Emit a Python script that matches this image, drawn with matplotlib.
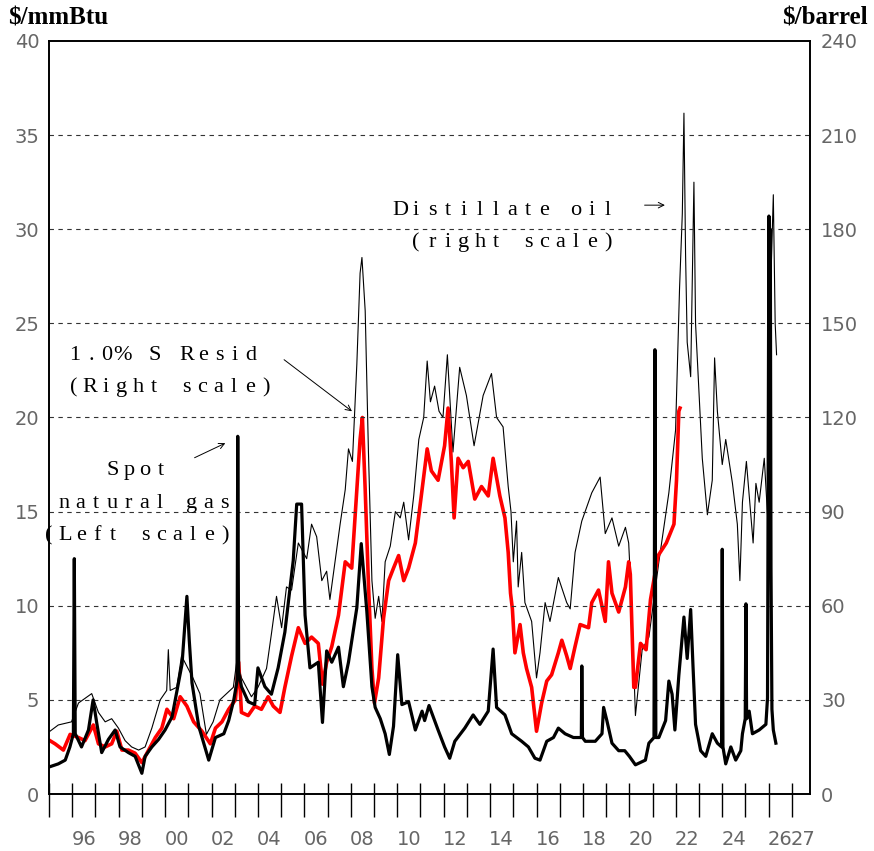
import matplotlib
matplotlib.use('Agg')
import matplotlib.pyplot as plt

# spot natural gas, $/mmBtu (left scale)
gas_year = [1995.04, 1995.40, 1995.70, 1995.90, 1996.05, 1996.09, 1996.13, 1996.40, 1996.70, 1996.90,
            1997.06, 1997.27, 1997.56, 1997.85, 1998.06, 1998.42, 1998.71, 1999.00, 1999.14, 1999.43,
            1999.72, 2000.00, 2000.30, 2000.73, 2000.94, 2001.04, 2001.16, 2001.45, 2001.88, 2002.17,
            2002.53, 2002.74, 2002.96, 2003.10, 2003.13, 2003.17, 2003.29, 2003.58, 2003.86, 2004.00,
            2004.30, 2004.58, 2004.87, 2005.16, 2005.52, 2005.67, 2005.88, 2006.03, 2006.24, 2006.60,
            2006.78, 2006.96, 2007.18, 2007.47, 2007.68, 2007.90, 2008.26, 2008.45, 2008.69, 2008.91,
            2009.05, 2009.27, 2009.48, 2009.66, 2009.84, 2010.02, 2010.20, 2010.49, 2010.78, 2011.07,
            2011.18, 2011.37, 2011.76, 2012.04, 2012.26, 2012.48, 2012.91, 2013.27, 2013.56, 2013.92,
            2014.13, 2014.28, 2014.64, 2014.93, 2015.36, 2015.65, 2015.93, 2016.15, 2016.44, 2016.73,
            2016.94, 2017.23, 2017.59, 2017.93, 2017.95, 2017.98, 2018.10, 2018.53, 2018.82, 2018.89,
            2019.03, 2019.25, 2019.54, 2019.80, 2020.00, 2020.26, 2020.69, 2020.84, 2021.06, 2021.10,
            2021.14, 2021.27, 2021.56, 2021.70, 2021.84, 2021.96, 2022.13, 2022.35, 2022.49, 2022.64,
            2022.74, 2022.85, 2023.07, 2023.29, 2023.57, 2023.79, 2023.97, 2024.00, 2024.03, 2024.15,
            2024.37, 2024.58, 2024.80, 2024.87, 2024.99, 2025.02, 2025.05, 2025.16, 2025.30, 2025.59,
            2025.88, 2025.95, 2026.01, 2026.04, 2026.07, 2026.10, 2026.14, 2026.20, 2026.31]
gas_price = [1.45, 1.6, 1.8, 2.5, 3.2, 12.5, 3.2, 2.5, 3.4, 5.0,
             3.75, 2.2, 2.9, 3.4, 2.5, 2.2, 2.0, 1.1, 2.0, 2.5,
             2.9, 3.4, 4.1, 6.9, 10.5, 8.2, 5.9, 3.6, 1.8, 3.0,
             3.2, 3.9, 5.0, 6.0, 19.0, 6.5, 5.7, 4.9, 4.75, 6.7,
             5.7, 5.3, 6.7, 8.6, 12.4, 15.4, 15.4, 9.5, 6.7, 7.0,
             3.8, 7.6, 7.0, 7.8, 5.7, 7.0, 9.9, 13.3, 9.7, 5.7,
             4.6, 4.0, 3.2, 2.1, 3.6, 7.4, 4.75, 4.9, 3.4, 4.4,
             3.9, 4.7, 3.4, 2.5, 1.9, 2.8, 3.5, 4.2, 3.7, 4.4,
             7.7, 4.6, 4.2, 3.2, 2.8, 2.5, 1.9, 1.8, 2.8, 3.0,
             3.5, 3.2, 3.0, 3.0, 6.8, 3.0, 2.8, 2.8, 3.2, 4.6,
             3.9, 2.7, 2.3, 2.3, 2.0, 1.55, 1.8, 2.7, 3.0, 23.6,
             3.0, 3.0, 3.9, 6.0, 5.3, 3.4, 6.3, 9.4, 7.2, 9.8,
             6.8, 3.7, 2.3, 2.0, 3.2, 2.7, 2.5, 13.0, 2.5, 1.6,
             2.5, 1.8, 2.3, 3.2, 4.0, 10.1, 4.0, 4.4, 3.2, 3.4,
             3.7, 5.1, 30.7, 22.0, 30.0, 12.0, 4.5, 3.4, 2.7]

# distillate oil, $/barrel (right scale)
dist_year = [1995.04, 1995.40, 1995.97, 1996.27, 1996.84, 1997.13, 1997.42, 1997.70, 1997.99, 1998.28,
             1998.56, 1998.86, 1999.14, 1999.43, 1999.79, 2000.07, 2000.14, 2000.22, 2000.50, 2000.71,
             2000.92, 2001.20, 2001.50, 2001.78, 2002.07, 2002.36, 2002.65, 2002.94, 2003.10, 2003.29,
             2003.72, 2004.00, 2004.37, 2004.58, 2004.80, 2005.02, 2005.23, 2005.45, 2005.74, 2006.10,
             2006.31, 2006.53, 2006.75, 2006.96, 2007.10, 2007.32, 2007.54, 2007.76, 2007.90, 2008.07,
             2008.26, 2008.40, 2008.48, 2008.62, 2008.76, 2008.91, 2009.05, 2009.20, 2009.34, 2009.48,
             2009.70, 2009.92, 2010.13, 2010.28, 2010.49, 2010.71, 2010.93, 2011.14, 2011.29, 2011.43,
             2011.61, 2011.80, 2011.97, 2012.16, 2012.40, 2012.69, 2012.98, 2013.31, 2013.70, 2014.06,
             2014.28, 2014.56, 2014.78, 2014.90, 2015.00, 2015.14, 2015.21, 2015.36, 2015.50, 2015.79,
             2016.00, 2016.15, 2016.37, 2016.58, 2016.94, 2017.30, 2017.45, 2017.66, 2017.95, 2018.38,
             2018.74, 2018.96, 2019.25, 2019.54, 2019.83, 2019.97, 2020.10, 2020.26, 2020.55, 2020.84,
             2021.27, 2021.70, 2021.99, 2022.16, 2022.28, 2022.35, 2022.42, 2022.49, 2022.64, 2022.78,
             2022.85, 2023.00, 2023.14, 2023.36, 2023.57, 2023.67, 2023.79, 2024.00, 2024.15, 2024.44,
             2024.65, 2024.76, 2024.87, 2025.04, 2025.23, 2025.33, 2025.45, 2025.59, 2025.81, 2025.95,
             2026.10, 2026.20, 2026.28, 2026.34]
dist_price = [20, 22, 23, 29, 32, 26, 23, 24, 21, 17,
              15, 14, 15, 21, 30, 33, 46, 33, 34, 44,
              41, 37, 32, 19, 23, 30, 32, 34, 43, 37,
              31, 34, 40, 51, 63, 53, 66, 65, 80, 75,
              86, 82, 68, 71, 62, 74, 86, 97, 110, 106,
              137, 166, 171, 154, 109, 68, 56, 63, 55, 74,
              79, 90, 88, 93, 81, 95, 113, 120, 138, 125,
              130, 122, 120, 140, 109, 136, 127, 111, 127, 134,
              120, 117, 98, 90, 74, 87, 66, 77, 61, 55,
              37, 45, 61, 55, 69, 61, 59, 77, 87, 96,
              101, 83, 88, 79, 85, 80, 60, 25, 46, 50,
              74, 96, 116, 161, 185, 217, 172, 144, 133, 195,
              150, 128, 107, 89, 100, 139, 122, 105, 113, 99,
              86, 68, 93, 106, 89, 80, 99, 93, 107, 89,
              165, 191, 150, 140]

# 1.0% S resid, $/barrel (right scale)
resid_year = [1995.04, 1995.26, 1995.62, 1995.91, 1996.27, 1996.55, 1996.91, 1997.13, 1997.42, 1997.70,
              1997.92, 1998.14, 1998.42, 1998.71, 1999.00, 1999.29, 1999.58, 1999.86, 2000.08, 2000.37,
              2000.65, 2000.94, 2001.23, 2001.59, 2001.95, 2002.17, 2002.45, 2002.74, 2003.03, 2003.17,
              2003.29, 2003.58, 2003.86, 2004.15, 2004.44, 2004.66, 2004.95, 2005.16, 2005.45, 2005.74,
              2006.03, 2006.31, 2006.60, 2006.78, 2006.96, 2007.18, 2007.47, 2007.76, 2008.04, 2008.26,
              2008.40, 2008.50, 2008.62, 2008.76, 2008.91, 2009.02, 2009.20, 2009.41, 2009.63, 2009.84,
              2010.06, 2010.28, 2010.49, 2010.78, 2011.07, 2011.29, 2011.47, 2011.76, 2012.04, 2012.19,
              2012.33, 2012.45, 2012.62, 2012.84, 2013.06, 2013.34, 2013.63, 2013.92, 2014.13, 2014.42,
              2014.64, 2014.78, 2014.88, 2014.96, 2015.07, 2015.29, 2015.43, 2015.57, 2015.79, 2016.00,
              2016.22, 2016.44, 2016.65, 2016.94, 2017.09, 2017.30, 2017.45, 2017.66, 2017.88, 2018.24,
              2018.38, 2018.67, 2018.96, 2019.10, 2019.25, 2019.54, 2019.83, 2019.97, 2020.04, 2020.19,
              2020.26, 2020.48, 2020.72, 2020.91, 2021.05, 2021.24, 2021.59, 2021.92, 2022.03, 2022.13,
              2022.18]
resid_price = [17, 16, 14, 19, 18, 17, 22, 16, 15, 16,
               20, 14, 14, 13, 10, 14, 18, 21, 27, 24,
               31, 28, 23, 20, 16, 21, 23, 27, 30, 42,
               26, 25, 28, 27, 31, 28, 26, 34, 44, 53,
               48, 50, 48, 35, 42, 47, 57, 74, 72, 97,
               113, 120, 97, 67, 40, 29, 37, 56, 68, 72,
               76, 68, 72, 80, 97, 110, 103, 100, 111, 123,
               106, 88, 107, 104, 106, 94, 98, 95, 107, 95,
               88, 77, 64, 59, 45, 54, 45, 40, 34, 20,
               29, 36, 38, 45, 49, 44, 40, 47, 54, 53,
               61, 65, 55, 74, 64, 58, 66, 74, 70, 34,
               34, 48, 46, 62, 68, 76, 80, 86, 100, 122,
               123]

tick_years = list(range(1995, 2028))
label_years = list(range(1996, 2027, 2)) + [2027]
year_labels = [str(y)[2:] for y in label_years]
left_ticks = [0, 5, 10, 15, 20, 25, 30, 35, 40]
right_ticks = [0, 30, 60, 90, 120, 150, 180, 210, 240]

W, H = 874, 851
tick_font = 'DejaVu Sans'
note_font = 'Liberation Serif'
tick_color = '#666666'


def spaced_text(fig, x0, y0, s, pitch=16, size=16):
    ''' put every character on a fixed pitch, like the wide type of the original
    x0 = centre of first character, y0 = baseline (both in pixels from top-left) '''
    for i, ch in enumerate(s):
        if ch == ' ':
            continue
        fig.text((x0 + i * pitch) / W, 1 - y0 / H, ch, family=note_font, fontsize=size,
                 ha='center', va='baseline')


fig = plt.figure(figsize=(W / 100, H / 100), dpi=100, facecolor='w')
ax = fig.add_axes([49 / W, 1 - 794 / H, 761 / W, 753 / H])
ax2 = ax.twinx()
# gas goes on top of the oil series
ax.set_zorder(2)
ax2.set_zorder(1)
ax.patch.set_visible(False)

ax2.plot(dist_year, dist_price, color='black', lw=0.8)
ax2.plot(resid_year, resid_price, color='#ff0000', lw=2.6)
ax.plot(gas_year, gas_price, color='black', lw=2.3)

ax.set_xlim(1995, 2027.78)
ax.set_ylim(0, 40)
ax2.set_ylim(0, 240)

for y in left_ticks[1:-1]:
    ax.axhline(y, color='#333333', lw=0.8, ls=(0, (4, 4)), zorder=0)

ax.set_yticks(left_ticks)
ax.set_yticklabels([str(v) for v in left_ticks], family=tick_font, color=tick_color, fontsize=14)
ax2.set_yticks(right_ticks)
ax2.set_yticklabels([str(v) for v in right_ticks], family=tick_font, color=tick_color, fontsize=14)
ax.tick_params(axis='y', length=0, pad=7)
ax2.tick_params(axis='y', length=0, pad=8)

# year ticks cross the bottom axis, labels sit between them
ax.xaxis.remove_overlapping_locs = False
ax.set_xticks(tick_years)
ax.set_xticks(tick_years, minor=True)
ax.tick_params(axis='x', which='major', direction='out', length=16.5, width=1.0, labelbottom=False)
ax.tick_params(axis='x', which='minor', direction='in', length=8, width=1.0, labelbottom=False)

sec = ax.secondary_xaxis('bottom')
sec.set_xticks([y + 0.5 for y in label_years])
sec.set_xticklabels(year_labels, family=tick_font, color=tick_color, fontsize=14)
sec.tick_params(axis='x', length=0, pad=26)
sec.spines['bottom'].set_visible(False)

for a in (ax, ax2):
    for sp in a.spines.values():
        sp.set_linewidth(1.2)

fig.text(8 / W, 1 - 18 / H, r'\$/mmBtu', family=note_font, weight='bold', fontsize=18, va='center', ha='left')
fig.text(868 / W, 1 - 18 / H, r'\$/barrel', family=note_font, weight='bold', fontsize=18, va='center', ha='right')

# annotations
spaced_text(fig, 400, 215, 'Distillate oil')
spaced_text(fig, 416, 247, '(right scale)')
ax.annotate('', xy=(0.813, 0.782), xytext=(0.779, 0.782), xycoords='axes fraction',
            arrowprops=dict(arrowstyle='->', lw=0.7, color='black'))

spaced_text(fig, 75, 360, '1.0% S Resid')
spaced_text(fig, 74, 392, '(Right scale)')
ax.annotate('', xy=(0.401, 0.506), xytext=(0.306, 0.579), xycoords='axes fraction',
            arrowprops=dict(arrowstyle='->', lw=0.7, color='black'))

spaced_text(fig, 113, 475, 'Spot')
spaced_text(fig, 64, 508, 'natural gas')
spaced_text(fig, 49, 540, '(Left scale)')
ax.annotate('', xy=(0.235, 0.4675), xytext=(0.188, 0.445), xycoords='axes fraction',
            arrowprops=dict(arrowstyle='->', lw=0.7, color='black'))

plt.savefig('out.png', dpi=100, facecolor='w')
